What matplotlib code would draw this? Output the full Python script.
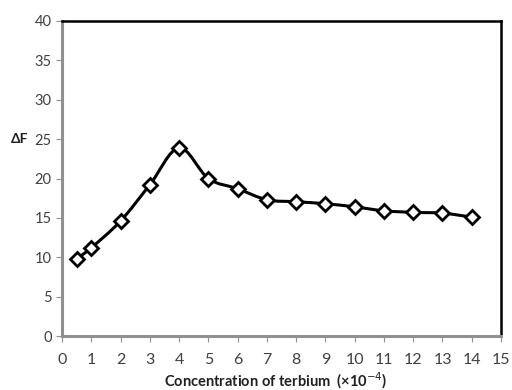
import matplotlib
matplotlib.use("Agg")
import matplotlib.pyplot as plt
import numpy as np
from matplotlib.path import Path
from matplotlib.patches import PathPatch

konc = [0.5, 1, 2, 3, 4, 5, 6, 7, 8, 9, 10, 11, 12, 13, 14]
delta_f = [9.8, 11.2, 14.6, 19.2, 23.9, 20.0, 18.7, 17.3, 17.05, 16.8, 16.4, 15.9, 15.7, 15.6, 15.1]
x_ticks = list(range(0, 16))
y_ticks = list(range(0, 41, 5))

plt.rcParams["font.family"] = ["Lato", "DejaVu Sans"]
fig = plt.figure(figsize=(5.12, 3.9), dpi=100)
ax = fig.add_axes([62 / 512, 1 - 336 / 390, 439 / 512, 315 / 390])

# glattet kurve som i Excel (Catmull-Rom som Bezier-segmenter)
pts = np.column_stack([konc, delta_f])
verts = [pts[0]]
codes = [Path.MOVETO]
for i in range(len(pts) - 1):
    p0 = pts[i - 1] if i > 0 else pts[i]
    p1, p2 = pts[i], pts[i + 1]
    p3 = pts[i + 2] if i + 2 < len(pts) else pts[i + 1]
    c1 = p1 + (p2 - p0) / 6
    c2 = p2 - (p3 - p1) / 6
    verts += [c1, c2, p2]
    codes += [Path.CURVE4] * 3
ax.add_patch(PathPatch(Path(verts, codes), fill=False, lw=2.2, ec="black", zorder=2))
ax.plot(konc, delta_f, "D", ms=7, mfc="white", mec="black", mew=2, zorder=3)

ax.set_xlim(0, 15)
ax.set_ylim(0, 40)
ax.set_xticks(x_ticks)
ax.set_yticks(y_ticks)
ax.tick_params(direction="out", length=4, color="#909090", labelcolor="#404040",
               labelsize=10.5)
ax.tick_params(axis="x", pad=8, labelsize=11.5)

for side in ["left", "bottom"]:
    ax.spines[side].set_color("#909090")
    ax.spines[side].set_linewidth(2.2)
for side in ["top", "right"]:
    ax.spines[side].set_color("black")
    ax.spines[side].set_linewidth(1.8)

fig.text(276 / 512, 1 - 381 / 390, r"Concentration of terbium  (×10$^{-4}$)",
         ha="center", va="center", fontsize=10.5, fontweight="bold", color="#202020")
fig.text(20 / 512, 1 - 139 / 390, "ΔF", ha="center", va="center",
         fontsize=10, fontweight="bold", color="#202020")

fig.savefig("out.png", dpi=100)
